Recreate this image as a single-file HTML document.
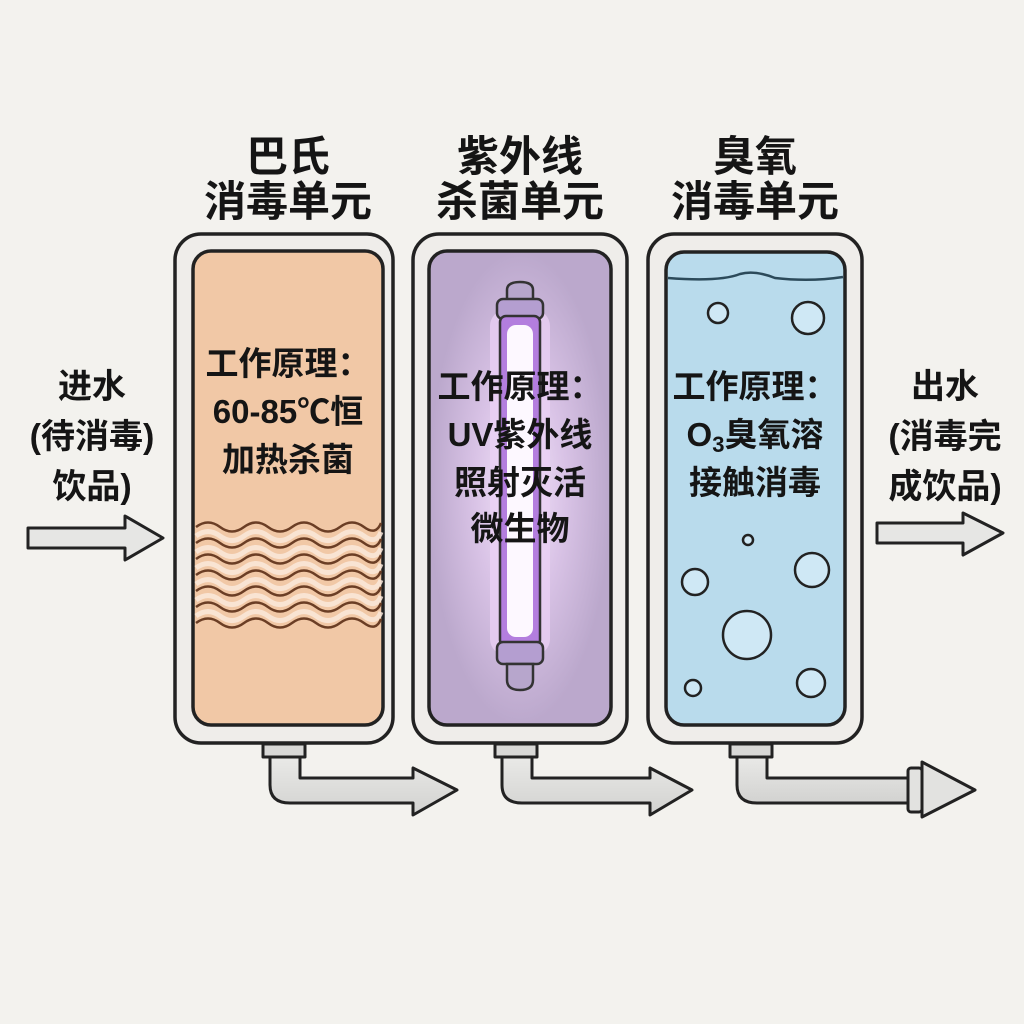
<!DOCTYPE html>
<html><head><meta charset="utf-8"><style>
html,body{margin:0;padding:0;background:#f3f2ee;}
svg{display:block}
text{font-family:"Liberation Sans","Noto Sans CJK SC",sans-serif;fill:#151515;font-weight:bold;text-anchor:middle}
</style></head><body>
<svg width="1024" height="1024" viewBox="0 0 1024 1024" xmlns="http://www.w3.org/2000/svg">
<defs>
<radialGradient id="glow" cx="0.5" cy="0.5" r="0.5">
<stop offset="0" stop-color="#f4e6fa"/><stop offset="0.5" stop-color="#d9c3e6"/><stop offset="1" stop-color="#bba8cc"/>
</radialGradient>
<linearGradient id="pipe" x1="0" y1="0" x2="0" y2="1"><stop offset="0" stop-color="#e9e9e7"/><stop offset="1" stop-color="#d2d2d0"/></linearGradient>
</defs>
<rect width="1024" height="1024" fill="#f3f2ee"/>

<!-- titles -->
<g font-size="42">
<text x="288" y="171">巴氏</text><text x="288" y="216">消毒单元</text>
<text x="520" y="171">紫外线</text><text x="520" y="216">杀菌单元</text>
<text x="755" y="171">臭氧</text><text x="755" y="216">消毒单元</text>
</g>
<g font-size="34">
<text x="92" y="398">进水</text><text x="92" y="448">(待消毒)</text><text x="92" y="498">饮品)</text>
<text x="945" y="398">出水</text><text x="945" y="448">(消毒完</text><text x="945" y="498">成饮品)</text>
</g>

<!-- side arrows -->
<path d="M28 528 H125 V516 L163 538 L125 560 V548 H28 Z" fill="#e6e6e4" stroke="#222" stroke-width="3" stroke-linejoin="round"/>
<path d="M877 523 H963 V513 L1003 533 L963 555 V543 H877 Z" fill="#e6e6e4" stroke="#222" stroke-width="3" stroke-linejoin="round"/>

<!-- pipes -->
<g stroke="#222" stroke-width="3" stroke-linejoin="round" fill="url(#pipe)">
<path d="M270 757 V785 Q270 803 290 803 H413 V815 L457 790 L413 768 V778 H300 V757 Z"/>
<rect x="263" y="744" width="42" height="13" fill="#d8d8d6"/>
<path d="M502 757 V785 Q502 803 522 803 H650 V815 L692 790 L650 768 V778 H532 V757 Z"/>
<rect x="495" y="744" width="42" height="13" fill="#d8d8d6"/>
<path d="M737 757 V785 Q737 803 757 803 H910 V778 H767 V757 Z"/>
<rect x="730" y="744" width="42" height="13" fill="#d8d8d6"/>
<rect x="908" y="768" width="14" height="44" rx="3" fill="#e2e2e0"/>
<path d="M922 762 L975 790 L922 817 Z" fill="#e2e2e0"/>
</g>

<!-- tanks outer -->
<g fill="#efedea" stroke="#222" stroke-width="3.5">
<rect x="175" y="234" width="218" height="509" rx="26"/>
<rect x="413" y="234" width="214" height="509" rx="26"/>
<rect x="648" y="234" width="214" height="509" rx="26"/>
</g>
<!-- inner -->
<rect x="193" y="251" width="190" height="474" rx="18" fill="#f1c8a6" stroke="#222" stroke-width="3.5"/>
<rect x="429" y="251" width="182" height="474" rx="18" fill="url(#glow)" stroke="#222" stroke-width="3.5"/>
<rect x="666" y="252" width="179" height="473" rx="18" fill="#b9dbec" stroke="#222" stroke-width="3.5"/>

<!-- waves -->
<g fill="none" stroke="#fbe9dc" stroke-width="5" opacity="0.85">
<path id="w2" d="M196 536 q12 -9 24 0 t24 0 t24 0 t24 0 t24 0 t24 0 t24 0 t17 -4"/>
<use href="#w2" y="16"/><use href="#w2" y="32"/><use href="#w2" y="48"/><use href="#w2" y="64"/><use href="#w2" y="80"/>
</g>
<g fill="none" stroke="#6b3e25" stroke-width="2.5">
<path id="w" d="M196 527 q12 -9 24 0 t24 0 t24 0 t24 0 t24 0 t24 0 t24 0 t17 -4"/>
<use href="#w" y="16"/><use href="#w" y="32"/><use href="#w" y="48"/><use href="#w" y="64"/><use href="#w" y="80"/><use href="#w" y="96"/>
</g>

<!-- UV lamp -->
<rect x="490" y="310" width="60" height="345" rx="16" fill="#ecd2f7" opacity="0.7"/>
<g stroke="#333" stroke-width="2.5">
<path d="M507 300 V290 Q507 282 520 282 Q533 282 533 290 V300 Z" fill="#b7a6cc"/>
<rect x="497" y="299" width="46" height="20" rx="6" fill="#b49ed0"/>
<rect x="500" y="316" width="40" height="330" rx="6" fill="#b37ede"/>
<rect x="497" y="642" width="46" height="22" rx="6" fill="#b49ed0"/>
<path d="M507 664 V680 Q507 690 520 690 Q533 690 533 680 V664 Z" fill="#b7a6cc"/>
</g>
<rect x="507" y="325" width="26" height="312" rx="9" fill="#fdf8ff"/>

<!-- water line & bubbles -->
<path d="M668 278 Q720 282 740 274 Q755 270 775 278 Q810 282 843 277" fill="none" stroke="#2c4a5a" stroke-width="2.5"/>
<g fill="#cfe8f5" stroke="#222" stroke-width="2.5">
<circle cx="718" cy="313" r="10"/><circle cx="808" cy="318" r="16"/>
<circle cx="748" cy="540" r="5"/><circle cx="812" cy="570" r="17"/>
<circle cx="695" cy="582" r="13"/><circle cx="747" cy="635" r="24"/>
<circle cx="693" cy="688" r="8"/><circle cx="811" cy="683" r="14"/>
</g>

<!-- tank texts -->
<g font-size="33">
<text x="288" y="375">工作原理：</text><text x="288" y="423">60-85℃恒</text><text x="288" y="471">加热杀菌</text>
<text x="520" y="398">工作原理：</text><text x="520" y="446">UV紫外线</text><text x="520" y="494">照射灭活</text><text x="520" y="540">微生物</text>
<text x="755" y="398">工作原理：</text><text x="755" y="446">O<tspan font-size="22" dy="6">3</tspan><tspan dy="-6">臭氧溶</tspan></text><text x="755" y="494">接触消毒</text>
</g>
</svg>
</body></html>
